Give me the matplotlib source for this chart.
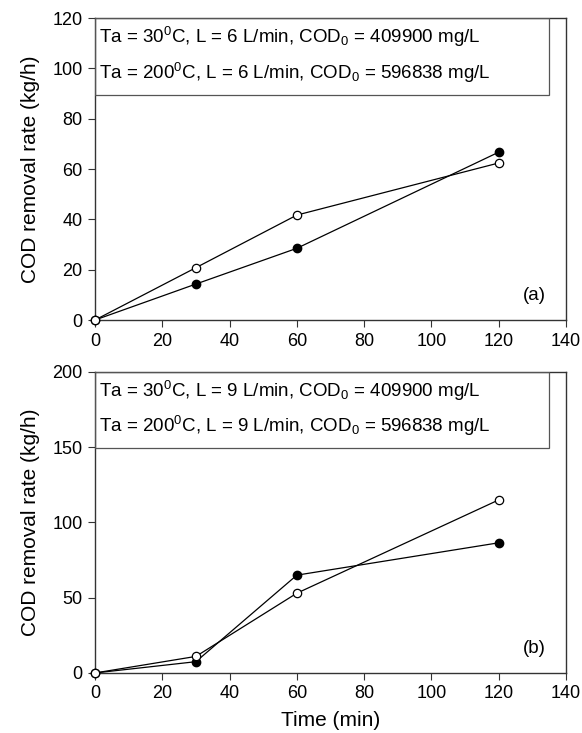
import matplotlib
matplotlib.use("Agg")
import matplotlib.pyplot as plt
from matplotlib.patches import Rectangle

plt.rcParams["font.family"] = ["Liberation Sans", "DejaVu Sans"]
plt.rcParams["mathtext.fontset"] = "custom"
plt.rcParams["mathtext.rm"] = "Liberation Sans"
plt.rcParams["mathtext.it"] = "Liberation Sans:italic"

# --- data -------------------------------------------------------------
time_min = [0, 30, 60, 120]

# panel (a): L = 6 L/min
a_filled = [0, 14.3, 28.5, 66.7]
a_open = [0, 20.8, 41.7, 62.4]
a_labels = [r"Ta = 30$\mathregular{^0}$C, L = 6 L/min, COD$\mathregular{_0}$ = 409900 mg/L",
            r"Ta = 200$\mathregular{^0}$C, L = 6 L/min, COD$\mathregular{_0}$ = 596838 mg/L"]

# panel (b): L = 9 L/min
b_filled = [0, 7.5, 65.0, 86.5]
b_open = [0, 11.0, 53.0, 115.0]
b_labels = [r"Ta = 30$\mathregular{^0}$C, L = 9 L/min, COD$\mathregular{_0}$ = 409900 mg/L",
            r"Ta = 200$\mathregular{^0}$C, L = 9 L/min, COD$\mathregular{_0}$ = 596838 mg/L"]

x_ticks = [0, 20, 40, 60, 80, 100, 120, 140]
a_yticks = [0, 20, 40, 60, 80, 100, 120]
b_yticks = [0, 50, 100, 150, 200]

FS = 13.5      # legend text, panel tags
FS_TICK = 13
FS_LAB = 15    # axis labels
SPINE = "#333333"


def panel(ax, filled, opn, labels, yticks, box_bottom, tag):
    ax.plot(time_min, filled, color="black", lw=0.9, marker="o", ms=6,
            mfc="black", mec="black", clip_on=False, zorder=3)
    ax.plot(time_min, opn, color="black", lw=0.9, marker="o", ms=6,
            mfc="white", mec="black", mew=0.9, clip_on=False, zorder=4)
    ax.set_xlim(0, 140)
    ax.set_ylim(yticks[0], yticks[-1])
    ax.set_xticks(x_ticks)
    ax.set_yticks(yticks)
    ax.tick_params(direction="out", length=5, width=0.8, color=SPINE,
                   labelsize=FS_TICK, top=False, right=False, pad=4)
    for s in ax.spines.values():
        s.set_color(SPINE)
        s.set_linewidth(1.0)
    ax.set_ylabel("COD removal rate (kg/h)", fontsize=FS_LAB, labelpad=9)

    # legend box (text only, as in the source figure)
    top = yticks[-1]
    ax.add_patch(Rectangle((0, box_bottom), 135, top - box_bottom,
                           fill=False, ec="#555555", lw=0.9, zorder=5))
    span = top - box_bottom
    ax.text(1.2, top - span * 0.25, labels[0], fontsize=FS, va="center", ha="left")
    ax.text(1.2, top - span * 0.71, labels[1], fontsize=FS, va="center", ha="left")
    ax.text(0.958, 0.08, tag, transform=ax.transAxes, fontsize=FS,
            ha="right", va="center")


fig = plt.figure(figsize=(5.82, 7.33), dpi=100)
ax1 = fig.add_axes([0.1632, 0.5634, 0.8093, 0.412])
ax2 = fig.add_axes([0.1632, 0.0819, 0.8093, 0.4106])

panel(ax1, a_filled, a_open, a_labels, a_yticks, 89.4, "(a)")
panel(ax2, b_filled, b_open, b_labels, b_yticks, 149.5, "(b)")
ax2.set_xlabel("Time (min)", fontsize=FS_LAB, labelpad=6)

fig.savefig("out.png", dpi=100)
